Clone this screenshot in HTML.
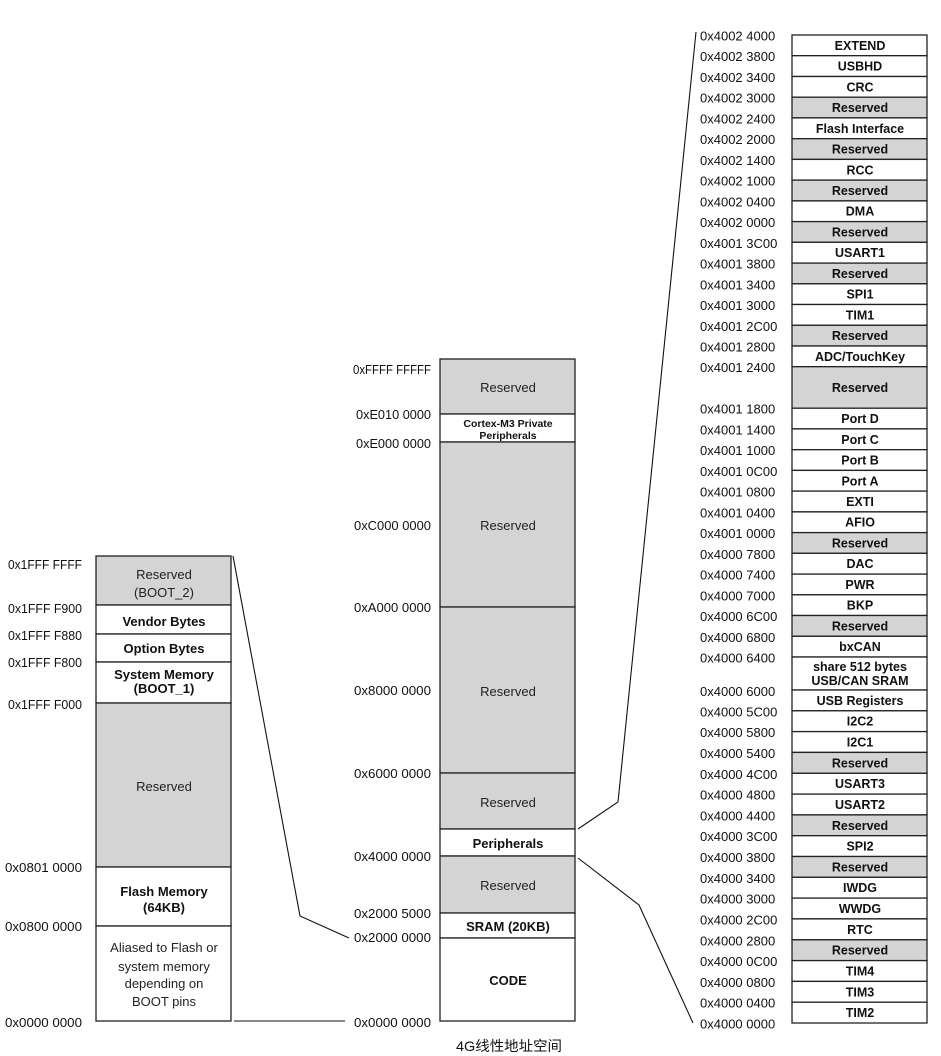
<!DOCTYPE html>
<html><head><meta charset="utf-8"><style>
html,body{margin:0;padding:0;background:#fff;}
svg{display:block;}
text{font-family:"Liberation Sans","Noto Sans CJK SC",sans-serif;fill:#111;}
.a{font-size:13px;}
.b{font-size:13px;font-weight:bold;text-anchor:middle;}
.r{font-size:13px;text-anchor:middle;fill:#222;}
.rb{font-size:12.5px;font-weight:bold;text-anchor:middle;}
.g{fill:#d4d4d4;stroke:#222;stroke-width:1.3;}
.w{fill:#fff;stroke:#222;stroke-width:1.3;}
.ln{stroke:#111;stroke-width:1.1;fill:none;}
</style></head><body>
<svg width="941" height="1056" viewBox="0 0 941 1056" xmlns="http://www.w3.org/2000/svg">
<!-- LEFT COLUMN -->
<rect class="g" x="96" y="556" width="135" height="49"/>
<rect class="w" x="96" y="605" width="135" height="29"/>
<rect class="w" x="96" y="634" width="135" height="28"/>
<rect class="w" x="96" y="662" width="135" height="41"/>
<rect class="g" x="96" y="703" width="135" height="164"/>
<rect class="w" x="96" y="867" width="135" height="59"/>
<rect class="w" x="96" y="926" width="135" height="95"/>
<text class="r" x="164" y="579">Reserved</text>
<text class="r" x="164" y="597">(BOOT_2)</text>
<text class="b" x="164" y="626">Vendor Bytes</text>
<text class="b" x="164" y="653">Option Bytes</text>
<text class="b" x="164" y="679">System Memory</text>
<text class="b" x="164" y="693">(BOOT_1)</text>
<text class="r" x="164" y="791">Reserved</text>
<text class="b" x="164" y="896">Flash Memory</text>
<text class="b" x="164" y="912">(64KB)</text>
<text class="r" x="164" y="952">Aliased to Flash or</text>
<text class="r" x="164" y="971">system memory</text>
<text class="r" x="164" y="988">depending on</text>
<text class="r" x="164" y="1006">BOOT pins</text>
<g class="a" text-anchor="end">
<text x="82" y="569" textLength="74" lengthAdjust="spacingAndGlyphs">0x1FFF FFFF</text>
<text x="82" y="613" textLength="74" lengthAdjust="spacingAndGlyphs">0x1FFF F900</text>
<text x="82" y="640" textLength="74" lengthAdjust="spacingAndGlyphs">0x1FFF F880</text>
<text x="82" y="667" textLength="74" lengthAdjust="spacingAndGlyphs">0x1FFF F800</text>
<text x="82" y="709" textLength="74" lengthAdjust="spacingAndGlyphs">0x1FFF F000</text>
<text x="82" y="872" textLength="77" lengthAdjust="spacingAndGlyphs">0x0801 0000</text>
<text x="82" y="931" textLength="77" lengthAdjust="spacingAndGlyphs">0x0800 0000</text>
<text x="82" y="1027" textLength="77" lengthAdjust="spacingAndGlyphs">0x0000 0000</text>
</g>

<!-- MIDDLE COLUMN -->
<rect class="g" x="440" y="359" width="135" height="55"/>
<rect class="w" x="440" y="414" width="135" height="28"/>
<rect class="g" x="440" y="442" width="135" height="165"/>
<rect class="g" x="440" y="607" width="135" height="166"/>
<rect class="g" x="440" y="773" width="135" height="56"/>
<rect class="w" x="440" y="829" width="135" height="27"/>
<rect class="g" x="440" y="856" width="135" height="57"/>
<rect class="w" x="440" y="913" width="135" height="25"/>
<rect class="w" x="440" y="938" width="135" height="83"/>
<text class="r" x="508" y="392">Reserved</text>
<text class="b" x="508" y="427" style="font-size:10.5px">Cortex-M3 Private</text>
<text class="b" x="508" y="439" style="font-size:10.5px">Peripherals</text>
<text class="r" x="508" y="530">Reserved</text>
<text class="r" x="508" y="696">Reserved</text>
<text class="r" x="508" y="807">Reserved</text>
<text class="b" x="508" y="848">Peripherals</text>
<text class="r" x="508" y="890">Reserved</text>
<text class="b" x="508" y="931">SRAM (20KB)</text>
<text class="b" x="508" y="985">CODE</text>
<g class="a" text-anchor="end">
<text x="431" y="374" textLength="78" lengthAdjust="spacingAndGlyphs">0xFFFF FFFFF</text>
<text x="431" y="419" textLength="75" lengthAdjust="spacingAndGlyphs">0xE010 0000</text>
<text x="431" y="448" textLength="75" lengthAdjust="spacingAndGlyphs">0xE000 0000</text>
<text x="431" y="530" textLength="77" lengthAdjust="spacingAndGlyphs">0xC000 0000</text>
<text x="431" y="612" textLength="77" lengthAdjust="spacingAndGlyphs">0xA000 0000</text>
<text x="431" y="695" textLength="77" lengthAdjust="spacingAndGlyphs">0x8000 0000</text>
<text x="431" y="778" textLength="77" lengthAdjust="spacingAndGlyphs">0x6000 0000</text>
<text x="431" y="861" textLength="77" lengthAdjust="spacingAndGlyphs">0x4000 0000</text>
<text x="431" y="918" textLength="77" lengthAdjust="spacingAndGlyphs">0x2000 5000</text>
<text x="431" y="942" textLength="77" lengthAdjust="spacingAndGlyphs">0x2000 0000</text>
<text x="431" y="1027" textLength="77" lengthAdjust="spacingAndGlyphs">0x0000 0000</text>
</g>
<text x="456" y="1051" style="font-size:14px" textLength="106" lengthAdjust="spacingAndGlyphs">4G线性地址空间</text>

<!-- CONNECTORS -->
<polyline class="ln" points="233,556 300,916 349,938"/>
<line class="ln" x1="234" y1="1021" x2="345" y2="1021"/>
<polyline class="ln" points="578,829 618,802 696,32"/>
<polyline class="ln" points="578,858 639,905 693,1023"/>

<!-- RIGHT COLUMN -->
<g>
<rect class="w" x="792" y="35" width="135" height="20.7"/>
<rect class="w" x="792" y="55.7" width="135" height="20.8"/>
<rect class="w" x="792" y="76.5" width="135" height="20.7"/>
<rect class="g" x="792" y="97.2" width="135" height="20.7"/>
<rect class="w" x="792" y="117.9" width="135" height="20.8"/>
<rect class="g" x="792" y="138.7" width="135" height="20.7"/>
<rect class="w" x="792" y="159.4" width="135" height="20.7"/>
<rect class="g" x="792" y="180.1" width="135" height="20.8"/>
<rect class="w" x="792" y="200.9" width="135" height="20.7"/>
<rect class="g" x="792" y="221.6" width="135" height="20.7"/>
<rect class="w" x="792" y="242.3" width="135" height="20.8"/>
<rect class="g" x="792" y="263.1" width="135" height="20.7"/>
<rect class="w" x="792" y="283.8" width="135" height="20.7"/>
<rect class="w" x="792" y="304.5" width="135" height="20.8"/>
<rect class="g" x="792" y="325.3" width="135" height="20.7"/>
<rect class="w" x="792" y="346" width="135" height="20.7"/>
<rect class="g" x="792" y="366.7" width="135" height="41.5"/>
<rect class="w" x="792" y="408.2" width="135" height="20.7"/>
<rect class="w" x="792" y="428.9" width="135" height="20.8"/>
<rect class="w" x="792" y="449.7" width="135" height="20.7"/>
<rect class="w" x="792" y="470.4" width="135" height="20.7"/>
<rect class="w" x="792" y="491.1" width="135" height="20.8"/>
<rect class="w" x="792" y="511.9" width="135" height="20.7"/>
<rect class="g" x="792" y="532.6" width="135" height="20.7"/>
<rect class="w" x="792" y="553.3" width="135" height="20.8"/>
<rect class="w" x="792" y="574.1" width="135" height="20.7"/>
<rect class="w" x="792" y="594.8" width="135" height="20.7"/>
<rect class="g" x="792" y="615.5" width="135" height="20.8"/>
<rect class="w" x="792" y="636.3" width="135" height="20.7"/>
<rect class="w" x="792" y="657" width="135" height="33"/>
<rect class="w" x="792" y="690" width="135" height="20.8"/>
<rect class="w" x="792" y="710.8" width="135" height="20.8"/>
<rect class="w" x="792" y="731.6" width="135" height="20.8"/>
<rect class="g" x="792" y="752.4" width="135" height="20.9"/>
<rect class="w" x="792" y="773.3" width="135" height="20.8"/>
<rect class="w" x="792" y="794.1" width="135" height="20.8"/>
<rect class="g" x="792" y="814.9" width="135" height="20.8"/>
<rect class="w" x="792" y="835.7" width="135" height="20.8"/>
<rect class="g" x="792" y="856.5" width="135" height="20.8"/>
<rect class="w" x="792" y="877.3" width="135" height="20.8"/>
<rect class="w" x="792" y="898.1" width="135" height="20.8"/>
<rect class="w" x="792" y="918.9" width="135" height="20.9"/>
<rect class="g" x="792" y="939.8" width="135" height="20.8"/>
<rect class="w" x="792" y="960.6" width="135" height="20.8"/>
<rect class="w" x="792" y="981.4" width="135" height="20.8"/>
<rect class="w" x="792" y="1002.2" width="135" height="20.8"/>
</g>
<g class="rb">
<text x="860" y="49.8">EXTEND</text>
<text x="860" y="70.6">USBHD</text>
<text x="860" y="91.3">CRC</text>
<text x="860" y="112">Reserved</text>
<text x="860" y="132.8">Flash Interface</text>
<text x="860" y="153.5">Reserved</text>
<text x="860" y="174.3">RCC</text>
<text x="860" y="195">Reserved</text>
<text x="860" y="215.7">DMA</text>
<text x="860" y="236.5">Reserved</text>
<text x="860" y="257.2">USART1</text>
<text x="860" y="277.9">Reserved</text>
<text x="860" y="298.7">SPI1</text>
<text x="860" y="319.4">TIM1</text>
<text x="860" y="340.1">Reserved</text>
<text x="860" y="360.9">ADC/TouchKey</text>
<text x="860" y="392">Reserved</text>
<text x="860" y="423">Port D</text>
<text x="860" y="443.8">Port C</text>
<text x="860" y="464.5">Port B</text>
<text x="860" y="485.3">Port A</text>
<text x="860" y="506">EXTI</text>
<text x="860" y="526.7">AFIO</text>
<text x="860" y="547.5">Reserved</text>
<text x="860" y="568.2">DAC</text>
<text x="860" y="588.9">PWR</text>
<text x="860" y="609.7">BKP</text>
<text x="860" y="630.4">Reserved</text>
<text x="860" y="651.1">bxCAN</text>
<text x="860" y="671">share 512 bytes</text>
<text x="860" y="685">USB/CAN SRAM</text>
<text x="860" y="704.9">USB Registers</text>
<text x="860" y="725.7">I2C2</text>
<text x="860" y="746.5">I2C1</text>
<text x="860" y="767.3">Reserved</text>
<text x="860" y="788.2">USART3</text>
<text x="860" y="809">USART2</text>
<text x="860" y="829.8">Reserved</text>
<text x="860" y="850.6">SPI2</text>
<text x="860" y="871.4">Reserved</text>
<text x="860" y="892.2">IWDG</text>
<text x="860" y="913">WWDG</text>
<text x="860" y="933.9">RTC</text>
<text x="860" y="954.7">Reserved</text>
<text x="860" y="975.5">TIM4</text>
<text x="860" y="996.3">TIM3</text>
<text x="860" y="1017.1">TIM2</text>
</g>
<g class="a">
<text x="700" y="40.5">0x4002 4000</text>
<text x="700" y="61.2">0x4002 3800</text>
<text x="700" y="82">0x4002 3400</text>
<text x="700" y="102.7">0x4002 3000</text>
<text x="700" y="123.4">0x4002 2400</text>
<text x="700" y="144.2">0x4002 2000</text>
<text x="700" y="164.9">0x4002 1400</text>
<text x="700" y="185.6">0x4002 1000</text>
<text x="700" y="206.4">0x4002 0400</text>
<text x="700" y="227.1">0x4002 0000</text>
<text x="700" y="247.8">0x4001 3C00</text>
<text x="700" y="268.6">0x4001 3800</text>
<text x="700" y="289.3">0x4001 3400</text>
<text x="700" y="310">0x4001 3000</text>
<text x="700" y="330.8">0x4001 2C00</text>
<text x="700" y="351.5">0x4001 2800</text>
<text x="700" y="372.2">0x4001 2400</text>
<text x="700" y="413.7">0x4001 1800</text>
<text x="700" y="434.4">0x4001 1400</text>
<text x="700" y="455.2">0x4001 1000</text>
<text x="700" y="475.9">0x4001 0C00</text>
<text x="700" y="496.6">0x4001 0800</text>
<text x="700" y="517.4">0x4001 0400</text>
<text x="700" y="538.1">0x4001 0000</text>
<text x="700" y="558.8">0x4000 7800</text>
<text x="700" y="579.6">0x4000 7400</text>
<text x="700" y="600.3">0x4000 7000</text>
<text x="700" y="621">0x4000 6C00</text>
<text x="700" y="641.8">0x4000 6800</text>
<text x="700" y="662.5">0x4000 6400</text>
<text x="700" y="696">0x4000 6000</text>
<text x="700" y="716.3">0x4000 5C00</text>
<text x="700" y="737.1">0x4000 5800</text>
<text x="700" y="757.9">0x4000 5400</text>
<text x="700" y="778.8">0x4000 4C00</text>
<text x="700" y="799.6">0x4000 4800</text>
<text x="700" y="820.4">0x4000 4400</text>
<text x="700" y="841.2">0x4000 3C00</text>
<text x="700" y="862">0x4000 3800</text>
<text x="700" y="882.8">0x4000 3400</text>
<text x="700" y="903.6">0x4000 3000</text>
<text x="700" y="924.4">0x4000 2C00</text>
<text x="700" y="945.3">0x4000 2800</text>
<text x="700" y="966.1">0x4000 0C00</text>
<text x="700" y="986.9">0x4000 0800</text>
<text x="700" y="1007.7">0x4000 0400</text>
<text x="700" y="1028.5">0x4000 0000</text>
</g>
</svg>
</body></html>
